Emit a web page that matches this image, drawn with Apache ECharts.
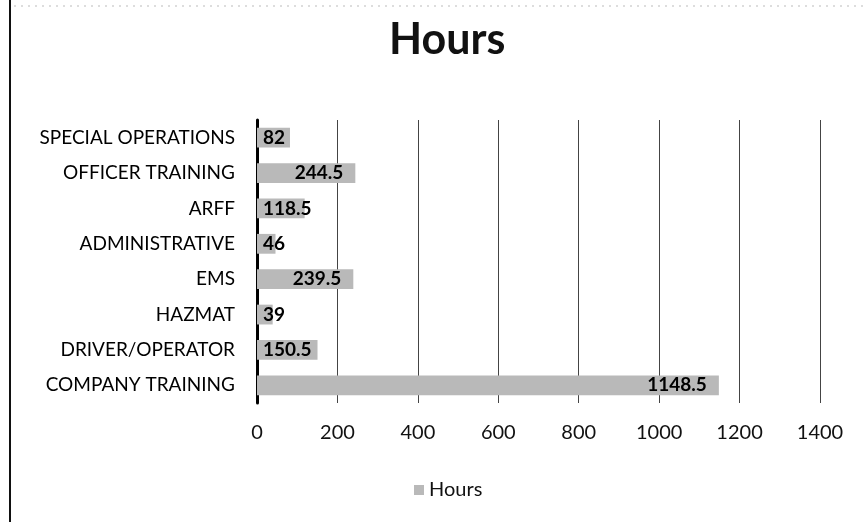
<!DOCTYPE html>
<html>
<head>
<meta charset="utf-8">
<script src="https://cdn.jsdelivr.net/npm/echarts@6/dist/echarts.min.js"></script>
<style>
html,body{margin:0;padding:0;background:#fff;}
#chart{width:865px;height:522px;}
</style>
</head>
<body>
<div id="chart"></div>
<script>
const categories = ["COMPANY TRAINING","DRIVER/OPERATOR","HAZMAT","EMS","ADMINISTRATIVE","ARFF","OFFICER TRAINING","SPECIAL OPERATIONS"];
const hours = [1148.5, 150.5, 39, 239.5, 46, 118.5, 244.5, 82];
const xTicks = [0, 200, 400, 600, 800, 1000, 1200, 1400];
const seriesName = "Hours";
const titleText = "Hours";

const FONT = "Lato";
const barData = hours.map(v => ({
  value: v,
  label: v < 160 ? {position: 'insideLeft', distance: 6} : {position: 'insideRight', distance: 12}
}));

const chart = echarts.init(document.getElementById('chart'));
chart.setOption({
  backgroundColor: '#ffffff',
  animation: false,
  title: {
    text: titleText,
    left: 384, top: 14,
    textStyle: {fontFamily: FONT, fontSize: 43, fontWeight: 'bold', color: '#111'}
  },
  legend: {
    data: [seriesName],
    left: 409, top: 475,
    itemWidth: 10, itemHeight: 10, itemGap: 5,
    icon: 'rect',
    textStyle: {fontFamily: FONT, fontSize: 20, color: '#111'}
  },
  grid: {left: 257, right: 45, top: 120, bottom: 119, containLabel: false},
  xAxis: {
    type: 'value',
    min: xTicks[0], max: xTicks[xTicks.length - 1], interval: xTicks[1] - xTicks[0],
    axisLine: {show: false},
    axisTick: {show: false},
    splitLine: {show: true, lineStyle: {color: '#444', width: 1}},
    axisLabel: {fontFamily: FONT, fontSize: 20, color: '#111', margin: 20, formatter: v => String(v)}
  },
  yAxis: {
    type: 'category',
    data: categories,
    axisLine: {show: true, lineStyle: {color: '#000', width: 3}},
    axisTick: {show: false},
    axisLabel: {fontFamily: FONT, fontSize: 19, color: '#000', margin: 22}
  },
  series: [{
    name: seriesName,
    type: 'bar',
    data: barData,
    barWidth: '56%',
    itemStyle: {color: '#b9b9b9'},
    label: {show: true, fontFamily: FONT, fontSize: 19, fontWeight: 'bold', color: '#000'}
  }],
  graphic: [{
    type: 'line', shape: {x1: 10, y1: 0, x2: 10, y2: 522},
    style: {stroke: '#111', lineWidth: 2}
  }, {
    type: 'line', shape: {x1: 14, y1: 6, x2: 865, y2: 6},
    style: {stroke: '#bbb', lineWidth: 1, lineDash: [2, 5]}
  }]
});
</script>
</body>
</html>
